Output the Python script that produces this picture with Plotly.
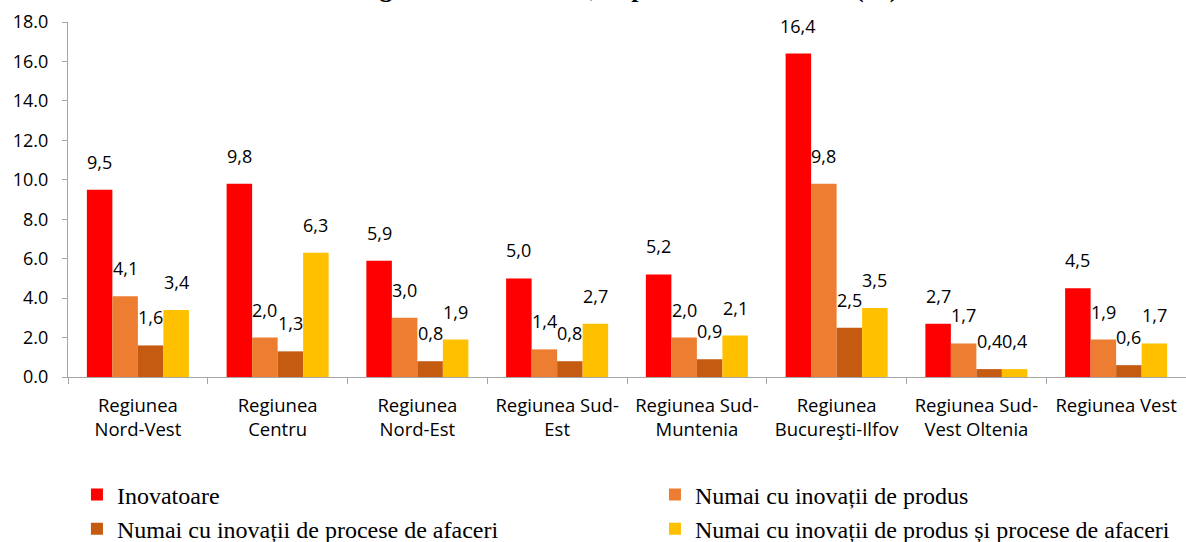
import plotly.graph_objects as go

categories = ["Regiunea<br>Nord-Vest", "Regiunea<br>Centru", "Regiunea<br>Nord-Est",
              "Regiunea Sud-<br>Est", "Regiunea Sud-<br>Muntenia", "Regiunea<br>Bucureşti-Ilfov",
              "Regiunea Sud-<br>Vest Oltenia", "Regiunea Vest"]
series_names = ["Inovatoare", "Numai cu inovații de produs",
                "Numai cu inovații de procese de afaceri",
                "Numai cu inovații de produs și procese de afaceri"]
inovatoare = [9.5, 9.8, 5.9, 5.0, 5.2, 16.4, 2.7, 4.5]
produs = [4.1, 2.0, 3.0, 1.4, 2.0, 9.8, 1.7, 1.9]
procese = [1.6, 1.3, 0.8, 0.8, 0.9, 2.5, 0.4, 0.6]
produs_procese = [3.4, 6.3, 1.9, 2.7, 2.1, 3.5, 0.4, 1.7]
y_ticks = [0, 2, 4, 6, 8, 10, 12, 14, 16, 18]
title_text = "regiuni de dezvoltare, în perioada 2018-2020 (%)"

colors = ["#FF0000", "#ED7D31", "#C55A11", "#FFC000"]
all_series = [inovatoare, produs, procese, produs_procese]
legend_ids = ["legend", "legend2", "legend", "legend2"]

W, H = 1186, 542
ML, MR, MT, MB = 68, 0, 22, 165
BARGAP = 0.27
cat_w = (W - ML - MR) / len(categories)
bar_w = cat_w * (1 - BARGAP) / 4

fig = go.Figure()
for i, (name, vals) in enumerate(zip(series_names, all_series)):
    fig.add_trace(go.Bar(
        x=categories, y=vals, name=name, marker_color=colors[i],
        marker_line_width=0, legend=legend_ids[i],
    ))
    for c, v in zip(categories, vals):
        fig.add_annotation(
            x=c, y=v, xref="x", yref="y", text=f"{v:.1f}".replace(".", ","),
            showarrow=False, xshift=(i - 1.5) * bar_w, yshift=28, yanchor="middle",
            font=dict(family="Open Sans", size=18, color="black"),
        )

fig.add_annotation(
    x=0.5, xref="paper",
    y=1.047, yref="paper", yanchor="bottom", showarrow=False,
    text="<b>" + title_text + "</b>",
    font=dict(family="Liberation Serif", size=26, color="black"),
)

axis_col = "#a6a6a6"
legend_font = dict(family="Liberation Serif", size=24, color="black")
fig.update_layout(
    width=W, height=H,
    margin=dict(l=ML, r=MR, t=MT, b=MB, autoexpand=False),
    paper_bgcolor="white", plot_bgcolor="white",
    barmode="group", bargap=BARGAP, bargroupgap=0,
    font=dict(family="Open Sans", size=18, color="black"),
    xaxis=dict(
        showline=True, linecolor=axis_col, linewidth=1,
        ticks="outside", tickson="boundaries", ticklen=6, tickcolor=axis_col,
        tickfont=dict(family="Open Sans", size=18.5), ticklabelstandoff=12,
        showgrid=False, automargin=False,
    ),
    yaxis=dict(
        range=[0, 18], tickvals=y_ticks, tickformat=".1f",
        showline=True, linecolor=axis_col, linewidth=1,
        ticks="outside", ticklen=5, tickcolor=axis_col,
        tickfont=dict(family="Open Sans", size=18), ticklabelstandoff=10,
        showgrid=False, zeroline=False, automargin=False,
    ),
    legend=dict(
        x=0.008, xanchor="left", y=-0.269, yanchor="top", orientation="v",
        font=legend_font, tracegroupgap=0,
        itemwidth=30, bgcolor="rgba(0,0,0,0)",
    ),
    legend2=dict(
        x=0.525, xanchor="left", y=-0.269, yanchor="top", orientation="v",
        font=legend_font, tracegroupgap=0,
        itemwidth=30, bgcolor="rgba(0,0,0,0)",
    ),
    showlegend=True,
)

fig.write_html("out.html", config={"displayModeBar": False},
               post_script="document.body.style.margin='0px';")
